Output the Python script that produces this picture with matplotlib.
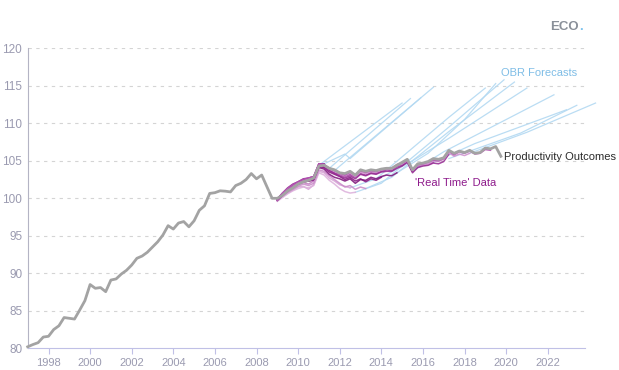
import numpy as np
import matplotlib
matplotlib.use('Agg')
import matplotlib.pyplot as plt

plt.rcParams['font.family'] = ['Liberation Sans', 'DejaVu Sans']

# Productivity outcomes, quarterly from 1997Q1
outcome = [80.2, 80.5, 80.75, 81.5, 81.6, 82.5, 83.0, 84.1, 84.0, 83.9, 85.1, 86.35,
           88.5, 88.0, 88.1, 87.55, 89.1, 89.25, 89.9, 90.4, 91.1, 92.0, 92.3, 92.8,
           93.5, 94.2, 95.1, 96.35, 95.9, 96.7, 96.9, 96.2, 97.0, 98.4, 99.0, 100.65,
           100.75, 101.0, 100.95, 100.85, 101.7, 102.0, 102.5, 103.3, 102.6, 103.1, 101.55, 100.0,
           100.0, 100.4, 101.0, 101.4, 101.9, 102.2, 102.4, 102.7, 104.3, 104.4, 104.0, 103.8,
           103.4, 103.3, 103.6, 103.1, 103.8, 103.6, 103.8, 103.7, 103.9, 104.0, 104.0, 104.4,
           104.8, 105.2, 103.8, 104.6, 104.7, 104.9, 105.3, 105.2, 105.4, 106.4, 106.0, 106.3,
           106.1, 106.4, 106.0, 106.1, 106.7, 106.6, 106.9, 105.6]

# 'Real time' data vintages, quarterly from 2009Q1
real_time = [
    [99.8, 100.6, 101.2, 101.6, 102.0, 102.3, 102.5, 102.6, 104.4],
    [99.9, 100.7, 101.4, 101.9, 102.2, 102.6, 102.7, 102.9, 104.6, 104.6],
    [99.7, 100.3, 100.9, 101.4, 101.8, 102.1, 101.9, 102.3, 104.1, 104.3, 104.0],
    [99.8, 100.5, 101.1, 101.5, 101.9, 102.2, 102.3, 102.4, 104.2, 104.2, 103.9, 103.7],
    [99.7, 100.2, 100.7, 101.1, 101.5, 101.6, 101.2, 101.8, 103.6, 103.4, 102.7, 102.3,
     101.8, 101.6, 101.4],
    [99.6, 100.1, 100.6, 101.0, 101.3, 101.5, 101.4, 101.7, 103.4, 103.1, 102.4, 101.9,
     101.3, 100.9, 100.7, 100.8],
    [99.8, 100.3, 100.8, 101.2, 101.6, 101.9, 101.7, 102.0, 103.8, 103.6, 103.0, 102.5,
     102.0, 101.5, 101.7, 101.2, 101.5, 101.3],
    [99.9, 100.5, 101.1, 101.6, 102.0, 102.3, 102.4, 102.6, 104.3, 104.1, 103.5, 103.2,
     102.9, 102.5, 102.8, 102.3, 102.6, 102.2, 102.6, 102.4, 102.8],
    [99.7, 100.4, 101.0, 101.5, 101.9, 102.2, 102.3, 102.5, 104.1, 103.9, 103.2, 102.8,
     102.6, 102.3, 102.6, 102.0, 102.5, 102.4, 102.8, 102.6, 102.9, 103.1, 103.0, 103.4],
    [99.8, 100.6, 101.2, 101.7, 102.1, 102.4, 102.6, 102.7, 104.6, 104.4, 103.8, 103.4,
     103.2, 102.9, 103.2, 102.8, 103.3, 103.1, 103.4, 103.3, 103.6, 103.8, 103.7, 104.2,
     104.4, 104.9, 103.6],
    [99.9, 100.7, 101.3, 101.8, 102.2, 102.5, 102.7, 102.9, 104.6, 104.5, 104.0, 103.7,
     103.4, 103.1, 103.5, 103.0, 103.6, 103.4, 103.6, 103.5, 103.8, 103.9, 103.9, 104.3,
     104.6, 105.0, 103.6, 104.3, 104.4, 104.5, 104.8],
    [99.9, 100.5, 101.1, 101.7, 102.1, 102.4, 102.5, 102.7, 104.5, 104.3, 103.7, 103.3,
     103.0, 102.7, 103.0, 102.6, 103.2, 103.0, 103.3, 103.2, 103.5, 103.6, 103.6, 104.0,
     104.3, 104.8, 103.4, 104.1, 104.3, 104.4, 104.7, 104.6, 104.9, 105.9],
    [99.8, 100.6, 101.2, 101.7, 102.1, 102.4, 102.6, 102.8, 104.5, 104.4, 103.9, 103.6,
     103.3, 103.0, 103.4, 102.9, 103.5, 103.3, 103.6, 103.5, 103.8, 103.9, 103.9, 104.4,
     104.6, 105.0, 103.7, 104.4, 104.5, 104.6, 105.0, 104.9, 105.2, 106.1, 105.6, 105.9,
     105.7, 106.0],
    [99.9, 100.6, 101.2, 101.8, 102.2, 102.5, 102.7, 102.9, 104.6, 104.5, 104.0, 103.7,
     103.4, 103.1, 103.5, 103.1, 103.7, 103.5, 103.7, 103.6, 103.9, 104.0, 104.0, 104.5,
     104.7, 105.1, 103.8, 104.5, 104.6, 104.8, 105.1, 105.0, 105.3, 106.3, 105.8, 106.2,
     106.0, 106.3, 105.9, 106.0, 106.5, 106.4],
]
real_time_colours = ['#a54aa3', '#8e1b8c', '#c27bc0', '#9b3199', '#d7a3d6', '#dcb0db',
                     '#c98ac8', '#85137f', '#7a0e77', '#a23ea0', '#b55ab3', '#93258f',
                     '#cf8fcd', '#b04aae']

# OBR forecasts: (year, level) turning points of each forecast path
forecast_x = [
    [2011.0, 2015.0],
    [2011.25, 2012.25, 2012.5, 2015.9],
    [2011.5, 2015.4],
    [2011.75, 2016.5],
    [2012.5, 2013.75, 2017.25, 2019.0],
    [2012.75, 2014.0, 2017.25, 2019.9],
    [2013.25, 2014.5, 2017.25, 2020.4],
    [2014.0, 2015.5, 2017.25, 2021.0],
    [2014.75, 2016.25, 2018.0, 2019.5],
    [2015.5, 2017.0, 2020.0, 2022.3],
    [2016.5, 2018.5, 2022.9],
    [2017.25, 2020.7, 2023.4],
    [2018.25, 2021.0, 2024.3],
]
forecast_y = [
    [104.4, 112.7],
    [104.6, 105.9, 105.3, 113.4],
    [104.0, 113.3],
    [103.7, 114.8],
    [101.4, 102.6, 110.8, 114.7],
    [100.8, 102.0, 109.5, 115.8],
    [101.3, 102.8, 108.9, 115.5],
    [102.8, 105.0, 108.0, 114.7],
    [103.4, 106.0, 110.5, 115.3],
    [103.6, 106.2, 110.5, 113.8],
    [104.8, 107.3, 111.8],
    [105.3, 108.7, 112.4],
    [106.0, 108.8, 112.7],
]

year_ticks = list(range(1998, 2023, 2))
value_ticks = list(range(80, 121, 5))

fig = plt.figure(figsize=(6.19, 3.70), dpi=100)
ax = fig.add_axes([27.7 / 619, 21.7 / 370, (612 - 27.7) / 619, 300 / 370])
x_end = 1997 + (612 - 27.7) / 20.8
ax.set_xlim(1997, x_end)
ax.set_ylim(80, 120)

axis_end = 2023.8
for v in value_ticks[1:]:
    ax.plot([1997, axis_end], [v, v], color='#d4d4d4', lw=0.8,
            linestyle=(0, (3, 4)), zorder=0)

for fx, fy in zip(forecast_x, forecast_y):
    ax.plot(fx, fy, color='#b3d9f2', lw=0.9, alpha=0.9, zorder=1)

for series, colour in zip(real_time, real_time_colours):
    q = 2009 + np.arange(len(series)) / 4
    ax.plot(q, series, color=colour, lw=1.1, alpha=0.85, zorder=2)

q_all = 1997 + np.arange(len(outcome)) / 4
ax.plot(q_all, outcome, color='#a3a3a3', lw=2.0, zorder=3, clip_on=False)

ax.text(2019.75, 116.7, 'OBR Forecasts', color='#7fbde6', fontsize=8,
        va='center', ha='left')
ax.text(2015.62, 102.0, "'Real Time' Data", color='#8e1b8c', fontsize=8,
        va='center', ha='left')
ax.text(2019.9, 105.5, 'Productivity Outcomes', color='#2b2b2b', fontsize=8,
        va='center', ha='left')

for side in ['top', 'right']:
    ax.spines[side].set_visible(False)
ax.spines['left'].set_color('#b4b4c4')
ax.spines['bottom'].set_color('#c0c0e6')
ax.spines['bottom'].set_bounds(1997, axis_end)

ax.set_xticks(year_ticks)
ax.set_xticklabels([str(y) for y in year_ticks])
ax.set_yticks(value_ticks)
ax.set_yticklabels([str(v) for v in value_ticks])
ax.tick_params(axis='x', colors='#c0c0e6', labelcolor='#9a9ab0', length=4,
               width=0.8, labelsize=8, pad=3)
ax.tick_params(axis='y', length=0, labelcolor='#9a9ab0', labelsize=8.5, pad=4)

# ECO. logo, dot placed right after the word
logo = fig.text(550 / 619, 1 - 27 / 370, 'ECO', color='#8a9099', fontsize=9.5,
                fontweight='bold', va='center', ha='left')
renderer = fig.canvas.get_renderer()
bb = logo.get_window_extent(renderer)
fig.text((bb.x1 + 1) / 619, 1 - 27 / 370, '.', color='#7fc4ee', fontsize=9.5,
         fontweight='bold', va='center', ha='left')

fig.savefig('out.png', dpi=100)
